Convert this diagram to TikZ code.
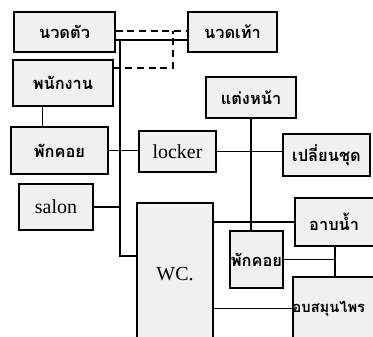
\documentclass[tikz,border=0pt]{standalone}
\usepackage{fontspec}
\setmainfont{Liberation Serif}
\newfontfamily\thai[Script=Thai]{Loma}
\begin{document}
\begin{tikzpicture}[x=0.03cm,y=-0.03cm,
    box/.style={draw,line width=1pt,fill=gray!12,inner sep=0pt},
    th/.style={font=\thai\bfseries\fontsize{14}{16}\selectfont},
    en/.style={font=\fontsize{17}{18}\selectfont},
    wire/.style={line width=0.9pt},
    dashwire/.style={line width=0.9pt,dash pattern=on 6pt off 4pt}]
    \useasboundingbox (0,0) rectangle (373,336);
    \clip (0,0) rectangle (373,336);

    \node[box,th,minimum width=101*0.03cm,minimum height=40*0.03cm] (mt) at (64.5,32) {นวดตัว};
    \node[box,th,minimum width=89*0.03cm,minimum height=40*0.03cm] (ft) at (232.5,32) {นวดเท้า};
    \node[box,th,minimum width=100*0.03cm,minimum height=46*0.03cm] (staff) at (63,83) {พนักงาน};
    \node[box,th,minimum width=90*0.03cm,minimum height=41*0.03cm] (makeup) at (251,97.5) {แต่งหน้า};
    \node[box,th,minimum width=97*0.03cm,minimum height=47*0.03cm] (rest1) at (59.5,150.5) {พักคอย};
    \node[box,en,minimum width=77*0.03cm,minimum height=41*0.03cm] (locker) at (177.5,151.5) {locker};
    \node[box,th,minimum width=87*0.03cm,minimum height=42*0.03cm] (change) at (326.5,155) {เปลี่ยนชุด};
    \node[box,en,minimum width=74*0.03cm,minimum height=46*0.03cm] (salon) at (56,207) {salon};
    \node[box,en,minimum width=76*0.03cm,minimum height=142*0.03cm] (wc) at (175,274) {WC.};
    \node[box,th,minimum width=90*0.03cm,minimum height=48*0.03cm] (bath) at (340,222) {\hspace*{-10pt}อาบน้ำ};
    \node[box,th,minimum width=53*0.03cm,minimum height=57*0.03cm] (rest2) at (256.5,259.5) {พักคอย};
    \node[box,minimum width=92*0.03cm,minimum height=63*0.03cm] (herb) at (339,308.5) {};
    \node[th,font=\thai\bfseries\fontsize{12.5}{14}\selectfont,anchor=west,inner sep=0pt] (herbtxt) at (herb.west) {อบสมุนไพร};

    \coordinate (j1) at (120,40);
    \coordinate (j2) at (120,256);
    \coordinate (j3) at (335,259);
    \coordinate (d1) at (173,31);
    \coordinate (d2) at (173,68);

    \draw[wire] (mt.east |- j1)--(ft.west |- j1);
    \draw[wire] (j1)--(j2)--(wc.west |- j2);
    \draw[wire] (salon.east)--(salon.east -| j1);
    \draw[wire] (rest1.east)--(rest1.east -| locker.west);
    \draw[wire] (locker.east)--(locker.east -| change.west);
    \draw[wire] (makeup.south)--(makeup.south |- rest2.north);
    \draw[wire] (wc.east |- bath.west)--(bath.west);
    \draw[wire] (rest2.east)--(rest2.east -| j3);
    \draw[wire] (bath.south -| j3)--(herb.north -| j3);
    \draw[wire] (wc.east |- herb.west)--(herb.west);
    \draw[line width=0.5pt] (staff.south -| 42,0)--(rest1.north -| 42,0);

    \draw[dashwire] (mt.east |- d1)--(ft.west |- d1);
    \draw[dashwire] (staff.east |- d2)--(d2)--(d1);
\end{tikzpicture}
\end{document}
